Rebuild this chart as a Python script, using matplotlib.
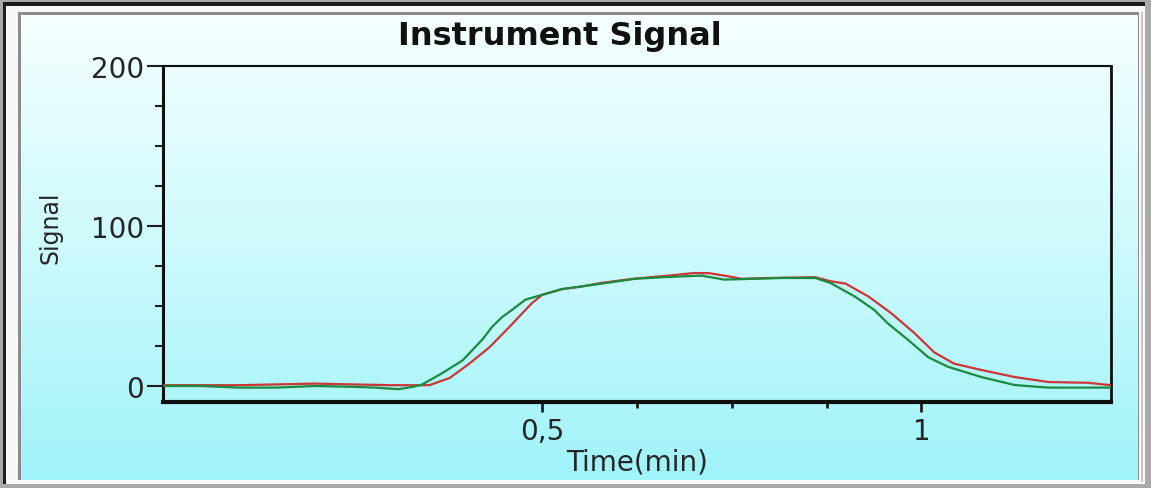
import numpy as np
import matplotlib
matplotlib.use("Agg")
import matplotlib.pyplot as plt
from matplotlib.patches import Rectangle
from matplotlib.colors import LinearSegmentedColormap

# ---------------- data ----------------
red_t = [0.00, 0.05, 0.10, 0.15, 0.20, 0.25, 0.30, 0.33, 0.351, 0.378, 0.404, 0.43,
         0.457, 0.474, 0.487, 0.50, 0.526, 0.55, 0.579, 0.62, 0.667, 0.70, 0.72, 0.74,
         0.763, 0.80, 0.86, 0.88, 0.90, 0.93, 0.96, 0.991, 1.017, 1.043, 1.079, 1.123,
         1.167, 1.22, 1.25]
red_v = [0.5, 0.5, 0.5, 1.0, 1.5, 1.0, 0.5, 0.5, 0.5, 5, 14, 24,
         37, 45.6, 52, 57, 60.5, 62, 64.5, 67, 69, 70.6, 70.5, 69,
         67, 67.5, 68, 65.5, 64, 56, 45.6, 33, 21, 14, 10, 5.6,
         2.5, 2.0, 0.5]

green_t = [0.00, 0.05, 0.10, 0.15, 0.20, 0.25, 0.28, 0.31, 0.33, 0.342, 0.368, 0.395,
           0.421, 0.434, 0.447, 0.46, 0.478, 0.50, 0.526, 0.579, 0.622, 0.66, 0.71,
           0.74, 0.78, 0.816, 0.86, 0.88, 0.912, 0.938, 0.956, 0.982, 1.009, 1.035,
           1.079, 1.123, 1.167, 1.25]
green_v = [0, 0, -1, -1, 0, -0.5, -1, -2, -0.5, 1, 8, 16,
           29, 37, 43, 47.5, 54, 57, 60.6, 64, 67, 68, 69,
           66.5, 67, 67.5, 67.5, 64.4, 56, 47.5, 39, 29, 18, 12,
           5.6, 0.6, -1, -1]

x_ticks = [0.5, 1.0]
x_tick_labels = ["0,5", "1"]
x_minor = [0.625, 0.75, 0.875]
y_ticks = [0, 100, 200]
y_tick_labels = ["0", "100", "200"]
y_minor = [25, 50, 75, 125, 150, 175]

title = "Instrument Signal"
xlabel = "Time(min)"
ylabel = "Signal"

# ---------------- figure ----------------
W, H = 1151, 489
fig = plt.figure(figsize=(W / 100, H / 100), dpi=100)
fig.patch.set_facecolor("#a9a9a9")

def px_rect(x0, y0, x1, y1, color, z):
    r = Rectangle((x0 / W, 1 - y1 / H), (x1 - x0) / W, (y1 - y0) / H,
                  transform=fig.transFigure, facecolor=color, edgecolor="none",
                  zorder=z)
    fig.add_artist(r)

# sunken frame
px_rect(3, 3, 1145, 485, "#1c1c1c", -10)
px_rect(6, 7, 1145, 485, "#f8f8f8", -9)
px_rect(1141, 13, 1143, 483, "#c8c8c8", -8.5)
px_rect(18, 13, 1139, 481, "#8c8c8c", -8)

# gradient background
bg = fig.add_axes([21 / W, 1 - 481 / H, (1138 - 21) / W, (481 - 16) / H], zorder=-5)
cmap = LinearSegmentedColormap.from_list("bg", ["#f6ffff", "#cdfafc", "#9ff3f9"])
grad = np.linspace(0, 1, 256).reshape(-1, 1)
bg.imshow(grad, aspect="auto", cmap=cmap, extent=[0, 1, 0, 1], origin="upper")
bg.set_axis_off()

# main axes
ax = fig.add_axes([163 / W, 1 - 403 / H, (1111 - 163) / W, (403 - 67) / H], zorder=1)
ax.set_facecolor("none")

ax.plot(red_t, red_v, color="#cc3535", lw=1.6, zorder=3)
ax.plot(green_t, green_v, color="#1b8a3e", lw=1.6, zorder=4)

ax.set_xlim(0, 1.25)
ax.set_ylim(-10, 200)

ax.set_xticks(x_ticks)
ax.set_xticklabels(x_tick_labels)
ax.set_xticks(x_minor, minor=True)
ax.set_yticks(y_ticks)
ax.set_yticklabels(y_tick_labels)
ax.set_yticks(y_minor, minor=True)

font = "DejaVu Sans"
for lab in ax.get_xticklabels() + ax.get_yticklabels():
    lab.set_fontfamily(font)
    lab.set_fontsize(20)
    lab.set_color("#262626")

ax.tick_params(axis="y", which="major", length=11.5, width=1.5, pad=2, color="#1e1e1e")
ax.tick_params(axis="y", which="minor", length=5.8, width=1.5, color="#1e1e1e")
ax.tick_params(axis="x", which="major", length=7, width=2, pad=4, color="#1e1e1e")
ax.tick_params(axis="x", which="minor", length=4.5, width=2, color="#1e1e1e")

for side, lw in [("left", 2.2), ("bottom", 3.0), ("top", 1.5), ("right", 2.0)]:
    ax.spines[side].set_linewidth(lw)
    ax.spines[side].set_color("#101010")

ax.set_xlabel(xlabel, fontsize=20, family=font, color="#262626")
ax.xaxis.set_label_coords(0.5, -0.135)
ax.set_ylabel(ylabel, fontsize=17, family=font, color="#262626")
ax.yaxis.set_label_coords(-0.106, 0.522)

fig.text(560 / W, 1 - 36 / H, title, ha="center", va="center",
         fontsize=23, fontweight="bold", family=font, color="#111111")

fig.savefig("out.png", dpi=100, facecolor=fig.get_facecolor())
